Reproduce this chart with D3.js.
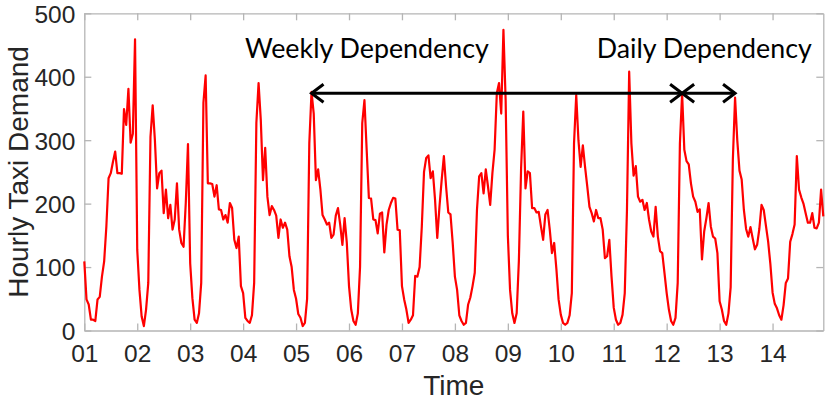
<!DOCTYPE html>
<html>
<head>
<meta charset="utf-8">
<script src="https://cdn.jsdelivr.net/npm/d3@7"></script>
<style>
  body { margin: 0; background: #fff; }
  svg { display: block; }
</style>
</head>
<body>
<div id="chart"></div>
<script>
// Hourly taxi demand, one array of 24 hourly values per day
const day01 = [109, 49, 41, 17, 17, 15, 49, 53, 85, 109, 164, 240, 248, 266, 282, 248, 248, 247, 349, 324, 381, 296, 310, 459];
const day02 = [127, 64, 22, 7, 33, 75, 305, 355, 300, 224, 248, 252, 185, 222, 177, 198, 159, 175, 232, 159, 138, 132, 201, 294];
const day03 = [106, 51, 17, 12, 27, 75, 359, 402, 232, 232, 231, 211, 229, 191, 190, 175, 182, 170, 201, 193, 143, 130, 148, 70];
const day04 = [59, 20, 15, 12, 24, 75, 327, 390, 332, 237, 288, 211, 182, 196, 190, 181, 146, 175, 162, 170, 159, 117, 100, 64];
const day05 = [50, 26, 20, 7, 12, 50, 295, 376, 342, 237, 254, 223, 182, 175, 167, 170, 146, 151, 181, 193, 167, 135, 177, 138];
const day06 = [70, 33, 15, 9, 27, 100, 327, 363, 285, 209, 208, 175, 174, 153, 184, 186, 123, 167, 190, 201, 209, 208, 159, 158];
const day07 = [70, 49, 33, 12, 17, 24, 86, 85, 100, 164, 250, 272, 276, 240, 251, 206, 146, 195, 237, 275, 227, 186, 183, 138];
const day08 = [85, 64, 24, 15, 9, 12, 41, 52, 70, 91, 190, 243, 248, 216, 254, 227, 198, 248, 285, 374, 390, 342, 474, 363];
const day09 = [150, 64, 27, 12, 27, 110, 255, 345, 224, 251, 248, 193, 193, 186, 187, 164, 143, 183, 190, 159, 122, 138, 97, 49];
const day10 = [25, 12, 9, 12, 24, 59, 295, 371, 300, 258, 292, 258, 227, 195, 185, 172, 190, 177, 177, 159, 114, 117, 143, 85];
const day11 = [36, 17, 9, 12, 25, 59, 190, 408, 295, 244, 259, 211, 203, 206, 190, 201, 175, 156, 148, 195, 148, 125, 122, 91];
const day12 = [59, 33, 15, 9, 20, 75, 295, 373, 285, 267, 262, 232, 211, 203, 187, 191, 112, 156, 177, 201, 164, 148, 145, 122];
const day13 = [46, 33, 15, 9, 27, 68, 269, 367, 300, 252, 238, 190, 160, 148, 163, 145, 128, 135, 160, 198, 190, 165, 140, 105];
const day14 = [60, 42, 35, 24, 17, 40, 75, 82, 140, 152, 167, 275, 222, 210, 200, 185, 170, 170, 185, 162, 161, 170, 222, 180];

const dayLabels = ["01", "02", "03", "04", "05", "06", "07", "08", "09", "10", "11", "12", "13", "14"];
const yTicks = [0, 100, 200, 300, 400, 500];

// annotation arrows: [start hour, end hour] at a demand level
const weeklySpan = [103, 271];
const dailySpan = [271, 295];
const arrowLevel = 374;

const demand = [].concat(day01, day02, day03, day04, day05, day06, day07,
  day08, day09, day10, day11, day12, day13, day14);
const data = demand.map((v, i) => ({ hour: i, value: v }));

const W = 830, H = 402;
const margin = { top: 13.3, right: 6.7, bottom: 71.5, left: 84.3 };
const width = W - margin.left - margin.right;
const height = H - margin.top - margin.bottom;

const svg = d3.select("#chart")
  .append("svg")
  .attr("width", W)
  .attr("height", H)
  .append("g")
  .attr("transform", `translate(${margin.left},${margin.top})`);

const x = d3.scaleLinear().domain([0, demand.length - 1]).range([0, width]);
const y = d3.scaleLinear().domain([0, 500]).range([height, 0]);

const dayHours = dayLabels.map((d, i) => i * 24);
const axisColor = "#b5b5b5";
const textColor = "#262626";
const tickFont = "Liberation Sans, Arial, Helvetica, sans-serif";

function styleAxis(g) {
  g.select(".domain").attr("stroke", axisColor).attr("stroke-width", 1.3);
  g.selectAll(".tick line").attr("stroke", axisColor).attr("stroke-width", 1.3);
  g.selectAll(".tick text")
    .attr("fill", textColor)
    .style("font-family", tickFont)
    .style("font-size", "24.5px");
}

// bottom axis with day labels
svg.append("g")
  .attr("transform", `translate(0,${height})`)
  .call(d3.axisBottom(x).tickValues(dayHours).tickFormat((d, i) => dayLabels[i])
    .tickSizeInner(-7).tickSizeOuter(0))
  .call(styleAxis)
  .call((g) => g.selectAll(".tick text").attr("y", 31.5).attr("dy", null));

// top axis (ticks only)
svg.append("g")
  .call(d3.axisTop(x).tickValues(dayHours).tickFormat("").tickSizeInner(-7).tickSizeOuter(0))
  .call(styleAxis);

// left axis
svg.append("g")
  .call(d3.axisLeft(y).tickValues(yTicks).tickSizeInner(-7).tickSizeOuter(0).tickPadding(9))
  .call(styleAxis)
  .call((g) => g.selectAll(".tick text").attr("x", -9).attr("dy", "0.36em"));

// right axis (ticks only)
svg.append("g")
  .attr("transform", `translate(${width},0)`)
  .call(d3.axisRight(y).tickValues(yTicks).tickFormat("").tickSizeInner(-7).tickSizeOuter(0))
  .call(styleAxis);

// demand line
svg.append("path")
  .datum(data)
  .attr("fill", "none")
  .attr("stroke", "#ff0000")
  .attr("stroke-width", 2.2)
  .attr("stroke-linejoin", "round")
  .attr("d", d3.line().x((d) => x(d.hour)).y((d) => y(d.value)));

// double-headed arrows
function arrow(span) {
  const x0 = x(span[0]), x1 = x(span[1]), yy = y(arrowLevel);
  const hl = 12, hh = 9;
  const g = svg.append("g")
    .attr("fill", "none")
    .attr("stroke", "#000")
    .attr("stroke-width", 3);
  g.append("line").attr("x1", x0).attr("x2", x1).attr("y1", yy).attr("y2", yy);
  g.append("polyline").attr("points", `${x0 + hl},${yy - hh} ${x0},${yy} ${x0 + hl},${yy + hh}`);
  g.append("polyline").attr("points", `${x1 - hl},${yy - hh} ${x1},${yy} ${x1 - hl},${yy + hh}`);
}
arrow(weeklySpan);
arrow(dailySpan);

// annotation text
const noteFont = "Lato, 'Open Sans', sans-serif";
svg.append("text")
  .attr("x", x(72.8))
  .attr("y", y(429))
  .attr("textLength", 244)
  .attr("lengthAdjust", "spacingAndGlyphs")
  .style("font-family", noteFont)
  .style("font-size", "26px")
  .attr("fill", "#000")
  .text("Weekly Dependency");

svg.append("text")
  .attr("x", x(232.3))
  .attr("y", y(429))
  .attr("textLength", 215)
  .attr("lengthAdjust", "spacingAndGlyphs")
  .style("font-family", noteFont)
  .style("font-size", "26px")
  .attr("fill", "#000")
  .text("Daily Dependency");

// axis titles
svg.append("text")
  .attr("x", width / 2)
  .attr("y", height + 65)
  .attr("text-anchor", "middle")
  .attr("fill", textColor)
  .style("font-family", tickFont)
  .style("font-size", "28px")
  .text("Time");

svg.append("text")
  .attr("transform", `translate(${28 - margin.left},${height / 2}) rotate(-90)`)
  .attr("text-anchor", "middle")
  .attr("fill", textColor)
  .style("font-family", tickFont)
  .style("font-size", "28px")
  .text("Hourly Taxi Demand");
</script>
</body>
</html>
